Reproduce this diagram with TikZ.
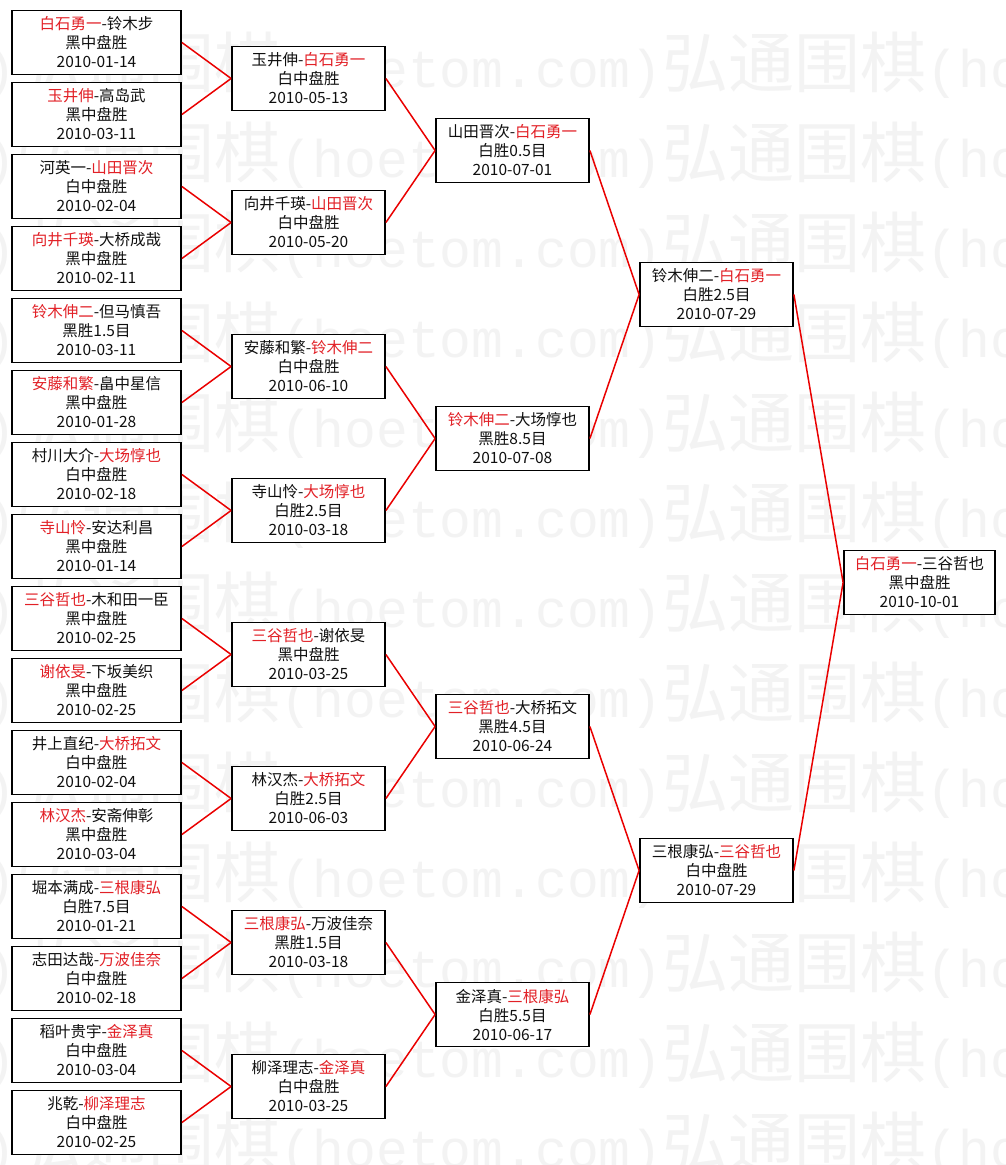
\documentclass[tikz,border=0pt]{standalone}
\usepackage{fontspec}
\setmainfont{Noto Sans CJK SC}
\newfontfamily\wmlat{Liberation Mono}
\definecolor{wred}{RGB}{226,32,38}
\definecolor{lred}{RGB}{234,0,0}
\definecolor{wmgray}{RGB}{243,243,243}
\definecolor{tblack}{RGB}{15,15,15}
\newcommand\W[1]{\textcolor{wred}{#1}}
\newcommand\wmunit{{\fontsize{66}{66}\selectfont 弘通围棋}{\wmlat\fontsize{53}{53}\selectfont(hoetom.com)}}
\tikzset{
  wm/.style={text=wmgray, inner sep=0pt, anchor=base west},
  gbox/.style={draw=black, line width=1.8pt, fill=white, minimum height=64pt,
    inner sep=0pt, align=center, text=tblack, font=\fontsize{15.5}{19}\selectfont,
    execute at begin node={\rule{0pt}{17.5pt}}},
  boxA/.style={gbox, minimum width=169pt},
  boxB/.style={gbox, minimum width=153pt},
  link/.style={draw=lred, line width=1.5pt},
}
\begin{document}
\begin{tikzpicture}[x=1pt,y=-1pt]
\useasboundingbox (0,0) rectangle (1006,1165);
\fill[white] (0,0) rectangle (1006,1165);
\begin{scope}
\clip (0,0) rectangle (1006,1165);
\foreach \k in {0,...,12}{
  \node[wm] (wm\k) at (-629,{87+90*\k}) {\wmunit\wmunit\wmunit};
}
\end{scope}

% round 1
\node[boxA] (a1)  at (96.5,42.5)   {\W{白石勇一}-铃木步\\黑中盘胜\\2010-01-14};
\node[boxA] (a2)  at (96.5,114.5)  {\W{玉井伸}-高岛武\\黑中盘胜\\2010-03-11};
\node[boxA] (a3)  at (96.5,186.5)  {河英一-\W{山田晋次}\\白中盘胜\\2010-02-04};
\node[boxA] (a4)  at (96.5,258.5)  {\W{向井千瑛}-大桥成哉\\黑中盘胜\\2010-02-11};
\node[boxA] (a5)  at (96.5,330.5)  {\W{铃木伸二}-但马慎吾\\黑胜1.5目\\2010-03-11};
\node[boxA] (a6)  at (96.5,402.5)  {\W{安藤和繁}-畠中星信\\黑中盘胜\\2010-01-28};
\node[boxA] (a7)  at (96.5,474.5)  {村川大介-\W{大场惇也}\\白中盘胜\\2010-02-18};
\node[boxA] (a8)  at (96.5,546.5)  {\W{寺山怜}-安达利昌\\黑中盘胜\\2010-01-14};
\node[boxA] (a9)  at (96.5,618.5)  {\W{三谷哲也}-木和田一臣\\黑中盘胜\\2010-02-25};
\node[boxA] (a10) at (96.5,690.5)  {\W{谢依旻}-下坂美织\\黑中盘胜\\2010-02-25};
\node[boxA] (a11) at (96.5,762.5)  {井上直纪-\W{大桥拓文}\\白中盘胜\\2010-02-04};
\node[boxA] (a12) at (96.5,834.5)  {\W{林汉杰}-安斋伸彰\\黑中盘胜\\2010-03-04};
\node[boxA] (a13) at (96.5,906.5)  {堀本满成-\W{三根康弘}\\白胜7.5目\\2010-01-21};
\node[boxA] (a14) at (96.5,978.5)  {志田达哉-\W{万波佳奈}\\白中盘胜\\2010-02-18};
\node[boxA] (a15) at (96.5,1050.5) {稻叶贵宇-\W{金泽真}\\白中盘胜\\2010-03-04};
\node[boxA] (a16) at (96.5,1122.5) {兆乾-\W{柳泽理志}\\白中盘胜\\2010-02-25};

% round 2
\node[boxB] (b1) at (308.5,78.5)   {玉井伸-\W{白石勇一}\\白中盘胜\\2010-05-13};
\node[boxB] (b2) at (308.5,222.5)  {向井千瑛-\W{山田晋次}\\白中盘胜\\2010-05-20};
\node[boxB] (b3) at (308.5,366.5)  {安藤和繁-\W{铃木伸二}\\白中盘胜\\2010-06-10};
\node[boxB] (b4) at (308.5,510.5)  {寺山怜-\W{大场惇也}\\白胜2.5目\\2010-03-18};
\node[boxB] (b5) at (308.5,654.5)  {\W{三谷哲也}-谢依旻\\黑中盘胜\\2010-03-25};
\node[boxB] (b6) at (308.5,798.5)  {林汉杰-\W{大桥拓文}\\白胜2.5目\\2010-06-03};
\node[boxB] (b7) at (308.5,942.5)  {\W{三根康弘}-万波佳奈\\黑胜1.5目\\2010-03-18};
\node[boxB] (b8) at (308.5,1086.5) {柳泽理志-\W{金泽真}\\白中盘胜\\2010-03-25};

% round 3
\node[boxB] (c1) at (512.5,150.5)  {山田晋次-\W{白石勇一}\\白胜0.5目\\2010-07-01};
\node[boxB] (c2) at (512.5,438.5)  {\W{铃木伸二}-大场惇也\\黑胜8.5目\\2010-07-08};
\node[boxB] (c3) at (512.5,726.5)  {\W{三谷哲也}-大桥拓文\\黑胜4.5目\\2010-06-24};
\node[boxB] (c4) at (512.5,1014.5) {金泽真-\W{三根康弘}\\白胜5.5目\\2010-06-17};

% round 4
\node[boxB] (d1) at (716.5,294.5)  {铃木伸二-\W{白石勇一}\\白胜2.5目\\2010-07-29};
\node[boxB] (d2) at (716.5,870.5)  {三根康弘-\W{三谷哲也}\\白中盘胜\\2010-07-29};

% final
\node[boxB, minimum width=151pt] (e1) at (919.5,582.5) {\W{白石勇一}-三谷哲也\\黑中盘胜\\2010-10-01};

% connectors
\foreach \i/\p in {1/1,2/1,3/2,4/2,5/3,6/3,7/4,8/4,9/5,10/5,11/6,12/6,13/7,14/7,15/8,16/8}{
  \draw[link] (a\i.east) -- (b\p.west);
}
\foreach \i/\p in {1/1,2/1,3/2,4/2,5/3,6/3,7/4,8/4}{
  \draw[link] (b\i.east) -- (c\p.west);
}
\foreach \i/\p in {1/1,2/1,3/2,4/2}{
  \draw[link] (c\i.east) -- (d\p.west);
}
\draw[link] (d1.east) -- (e1.west);
\draw[link] (d2.east) -- (e1.west);
\end{tikzpicture}
\end{document}
